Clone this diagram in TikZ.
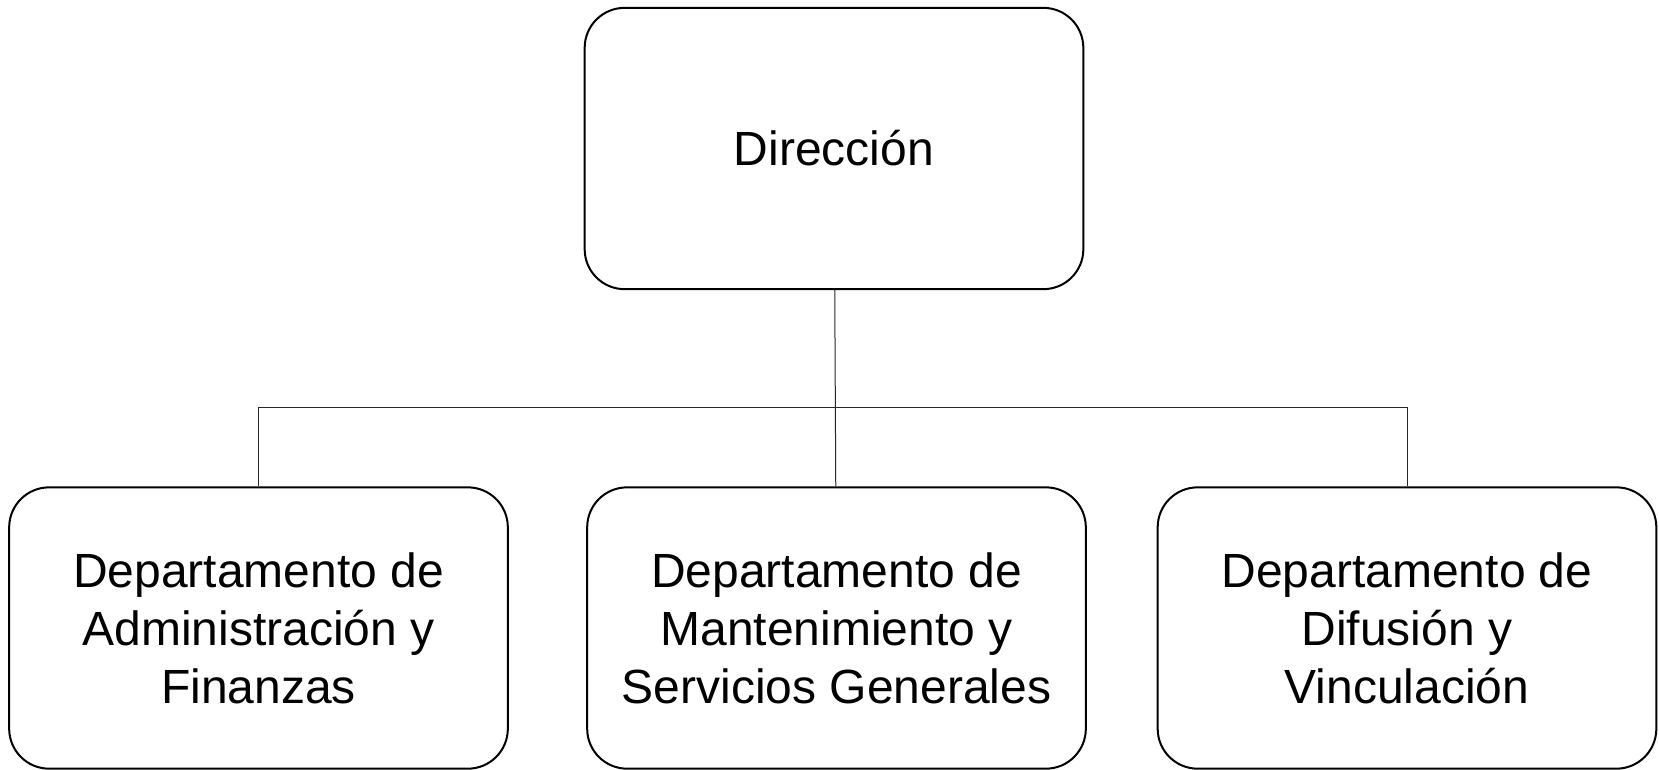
\documentclass[tikz,border=0pt]{standalone}
\usepackage{fontspec}
\setmainfont{Liberation Sans}
\usetikzlibrary{
	positioning		% Allows relative placement
	, calc			% Allows coordinate calculations
}

\begin{document}
\begin{tikzpicture}[
		x=0.75pt, y=-0.75pt
		, unit/.style={draw, rounded corners=30pt, line width=1.5pt,
			minimum width=374pt, minimum height=211pt, inner sep=0pt,
			align=center, font=\fontsize{36}{43.5}\selectfont}
		, link/.style={line width=0.75pt, draw=black!85}
	]

	% Fix the page to the size of the chart
	\useasboundingbox (0,0) rectangle (1659,769);

	% Draw the head office box
	\node [unit] (direccion) at (834,148.5) {Dirección};

	% Loop through each of our departments
	\foreach \x/\dept/\name in {
			258.5/adm/{Departamento de\\Administración y\\Finanzas},
			836.5/mant/{Departamento de\\Mantenimiento y\\Servicios Generales},
			1407/dif/{Departamento de\\Difusión y\\Vinculación}} {

		% Draw the department boxes along the bottom row
		\node [unit] (\dept) at (\x,628) {\name};
	};

	% Draw the lines from the head office down to the departments
	\draw [link] (direccion) -- (mant);
	\draw [link] (adm.north) -- ++(0,-79) -| (dif.north);
\end{tikzpicture}
\end{document}
